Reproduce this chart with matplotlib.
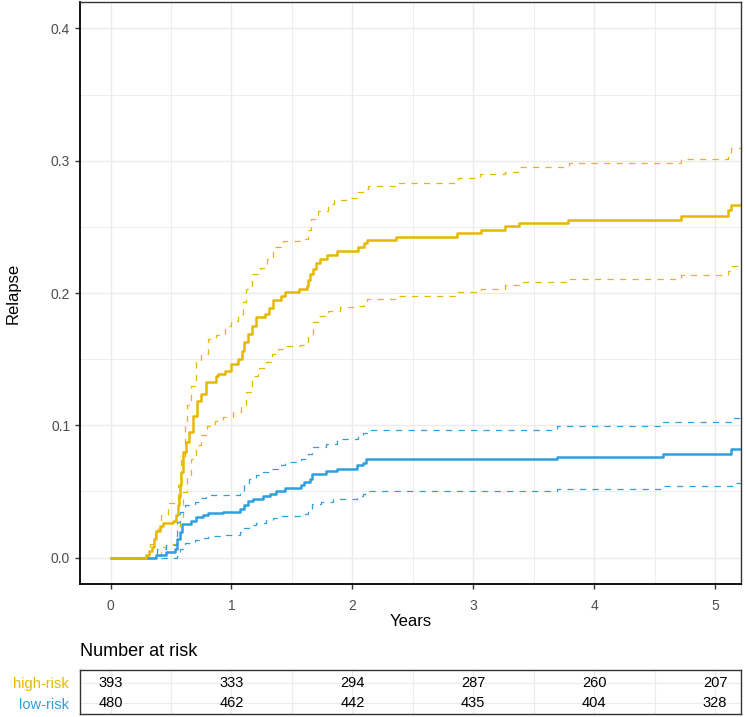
import matplotlib
matplotlib.use("Agg")
import matplotlib.pyplot as plt
from matplotlib.ticker import MultipleLocator

plt.rcParams["font.family"] = ["Liberation Sans", "DejaVu Sans"]

GOLD = "#E7B800"
BLUE = "#2E9FDF"

# cumulative incidence of relapse, high-risk group
high_t = [0, 0.295, 0.315, 0.34, 0.36, 0.38, 0.41, 0.433, 0.52, 0.544, 0.555, 0.566, 0.575,
          0.585, 0.6, 0.62, 0.648, 0.681, 0.715, 0.75, 0.79, 0.875, 0.89, 0.944, 1.0, 1.054,
          1.09, 1.10, 1.137, 1.17, 1.2, 1.275, 1.31, 1.345, 1.413, 1.44, 1.559, 1.625, 1.635,
          1.647, 1.675, 1.697, 1.73, 1.79, 1.873, 2.047, 2.10, 2.122, 2.365, 2.867, 3.063,
          3.262, 3.377, 3.786, 4.72, 5.11, 5.13]
high_est = [0, 0.002, 0.005, 0.008, 0.014, 0.020, 0.024, 0.026, 0.028, 0.032, 0.040, 0.046,
            0.055, 0.065, 0.080, 0.087, 0.095, 0.107, 0.118, 0.124, 0.133, 0.137, 0.139, 0.141,
            0.146, 0.150, 0.156, 0.163, 0.169, 0.175, 0.182, 0.184, 0.189, 0.195, 0.1975, 0.201,
            0.203, 0.2055, 0.210, 0.2143, 0.218, 0.223, 0.2257, 0.2287, 0.2315, 0.235, 0.2377,
            0.240, 0.2425, 0.245, 0.2478, 0.2503, 0.2526, 0.2553, 0.2583, 0.263, 0.2664]

high_up_t = [0, 0.31, 0.323, 0.364, 0.42, 0.475, 0.53, 0.557, 0.585, 0.613, 0.632, 0.668,
             0.71, 0.75, 0.806, 0.87, 0.944, 1.0, 1.054, 1.095, 1.123, 1.173, 1.233, 1.29,
             1.344, 1.426, 1.565, 1.633, 1.66, 1.72, 1.8, 1.85, 1.95, 2.05, 2.10, 2.13, 2.37,
             2.87, 3.06, 3.26, 3.38, 3.79, 4.72, 5.11, 5.13]
high_up = [0, 0.0025, 0.0106, 0.0219, 0.032, 0.041, 0.0415, 0.0546, 0.0747, 0.1024, 0.115,
           0.130, 0.148, 0.154, 0.165, 0.168, 0.175, 0.179, 0.184, 0.193, 0.203, 0.214, 0.219,
           0.2257, 0.2345, 0.2395, 0.241, 0.248, 0.256, 0.262, 0.267, 0.270, 0.2722, 0.276,
           0.2785, 0.281, 0.2835, 0.2868, 0.2898, 0.2918, 0.2953, 0.2983, 0.3014, 0.3057, 0.3094]

high_lo_t = [0, 0.378, 0.42, 0.461, 0.549, 0.571, 0.599, 0.632, 0.668, 0.709, 0.75, 0.797,
             0.861, 0.93, 1.013, 1.082, 1.123, 1.173, 1.22, 1.289, 1.338, 1.385, 1.454, 1.565,
             1.633, 1.675, 1.716, 1.8, 1.896, 2.05, 2.10, 2.125, 2.365, 2.867, 3.063, 3.262,
             3.377, 3.786, 4.72, 5.11, 5.13]
high_lo = [0, 0.0013, 0.008, 0.0106, 0.0113, 0.0294, 0.0496, 0.062, 0.0747, 0.0848, 0.0923,
           0.0998, 0.1036, 0.106, 0.110, 0.115, 0.125, 0.1376, 0.143, 0.1477, 0.154, 0.1577,
           0.1598, 0.161, 0.1666, 0.178, 0.1824, 0.1866, 0.1892, 0.1905, 0.194, 0.1955, 0.198,
           0.2005, 0.203, 0.206, 0.2085, 0.2108, 0.2138, 0.2168, 0.2206]

# low-risk group
low_t = [0, 0.378, 0.461, 0.53, 0.549, 0.571, 0.593, 0.668, 0.709, 0.764, 0.806, 0.93, 1.068,
         1.101, 1.137, 1.178, 1.261, 1.316, 1.372, 1.44, 1.578, 1.598, 1.647, 1.664, 1.78,
         1.873, 2.04, 2.09, 2.117, 3.695, 4.572, 5.13]
low_est = [0, 0.0023, 0.0045, 0.0068, 0.0143, 0.0196, 0.0257, 0.028, 0.0305, 0.0325, 0.0335,
           0.0345, 0.0365, 0.0395, 0.0425, 0.0445, 0.0466, 0.0483, 0.050, 0.0526, 0.0546,
           0.0571, 0.0596, 0.0634, 0.0654, 0.0672, 0.0697, 0.0717, 0.0742, 0.0757, 0.0782,
           0.082]

low_up_t = [0, 0.383, 0.461, 0.538, 0.549, 0.571, 0.613, 0.695, 0.737, 0.792, 1.068, 1.10,
            1.145, 1.206, 1.261, 1.316, 1.385, 1.44, 1.578, 1.633, 1.664, 1.78, 1.873, 2.05,
            2.09, 2.12, 3.695, 4.57, 5.13]
low_up = [0, 0.0068, 0.0093, 0.0106, 0.0269, 0.0345, 0.0395, 0.042, 0.045, 0.047, 0.0496,
          0.0558, 0.0596, 0.0621, 0.0647, 0.0672, 0.0697, 0.0722, 0.0747, 0.0785, 0.0835,
          0.086, 0.0893, 0.0923, 0.0943, 0.0968, 0.0996, 0.1024, 0.1057]

low_lo_t = [0, 0.549, 0.571, 0.613, 0.695, 0.75, 0.806, 0.902, 1.068, 1.10, 1.145, 1.206,
            1.289, 1.344, 1.413, 1.578, 1.633, 1.664, 1.744, 1.84, 2.04, 2.09, 2.125, 3.695,
            4.57, 5.14]
low_lo = [0, 0.0013, 0.0068, 0.0113, 0.0131, 0.0149, 0.0164, 0.0174, 0.0194, 0.0224, 0.0249,
          0.0264, 0.0282, 0.030, 0.0315, 0.0332, 0.037, 0.0408, 0.042, 0.0445, 0.0466, 0.0483,
          0.0503, 0.052, 0.0538, 0.0566]

# number at risk table
risk_times = [0, 1, 2, 3, 4, 5]
groups = ["high-risk", "low-risk"]
high_risk_n = [393, 333, 294, 287, 260, 207]
low_risk_n = [480, 462, 442, 435, 404, 328]

X_MAX = 5.215


def draw_step(ax, t, y, color, dashed=False):
    # extend the last value to the right edge of the panel
    tt = list(t) + [X_MAX + 0.1]
    yy = list(y) + [y[-1]]
    if dashed:
        ax.step(tt, yy, where="post", color=color, lw=0.9, dashes=(5, 5))
    else:
        ax.step(tt, yy, where="post", color=color, lw=1.8)


fig = plt.figure(figsize=(7.46, 7.17), dpi=100)
ax = fig.add_axes([0.1072, 0.1855, 0.8861, 0.8117])

draw_step(ax, high_up_t, high_up, GOLD, dashed=True)
draw_step(ax, high_lo_t, high_lo, GOLD, dashed=True)
draw_step(ax, low_up_t, low_up, BLUE, dashed=True)
draw_step(ax, low_lo_t, low_lo, BLUE, dashed=True)
draw_step(ax, low_t, low_est, BLUE)
draw_step(ax, high_t, high_est, GOLD)

ax.set_xlim(-0.253, X_MAX)
ax.set_ylim(-0.02, 0.42)
ax.xaxis.set_major_locator(MultipleLocator(1))
ax.xaxis.set_minor_locator(MultipleLocator(0.5))
ax.yaxis.set_major_locator(MultipleLocator(0.1))
ax.yaxis.set_minor_locator(MultipleLocator(0.05))
ax.yaxis.set_major_formatter(plt.FuncFormatter(lambda v, p: f"{v:.1f}"))
ax.grid(True, which="major", color="#EBEBEB", lw=1.0)
ax.grid(True, which="minor", color="#EBEBEB", lw=0.6)
ax.set_axisbelow(True)
ax.tick_params(which="major", direction="out", length=3.5, width=1, color="#333333",
               labelsize=10, labelcolor="#4D4D4D")
ax.tick_params(axis="x", which="major", pad=7)
ax.tick_params(which="minor", length=0)
for side, spine in ax.spines.items():
    spine.set_color("#333333")
    spine.set_linewidth(1.0)
ax.spines["left"].set_linewidth(1.3)
ax.spines["bottom"].set_linewidth(1.3)
ax.spines["left"].set_color("black")
ax.spines["bottom"].set_color("black")
ax.set_xlabel("Years", fontsize=12, labelpad=1)
ax.set_ylabel("Relapse", fontsize=12, labelpad=22)

# risk table
tab = fig.add_axes([0.1072, 0.0042, 0.8861, 0.0614])
rows = [high_risk_n, low_risk_n]
row_colors = [GOLD, BLUE]
for i, counts in enumerate(rows):
    for t, n in zip(risk_times, counts):
        tab.text(t, i, str(n), ha="center", va="center", fontsize=10.5, color="black")
tab.set_xlim(-0.253, X_MAX)
tab.set_ylim(1.51, -0.62)
tab.set_yticks(range(len(groups)))
tab.set_yticklabels(groups)
for lab, c in zip(tab.get_yticklabels(), row_colors):
    lab.set_color(c)
tab.set_xticks(risk_times)
tab.xaxis.set_minor_locator(MultipleLocator(0.5))
tab.tick_params(axis="x", which="both", length=0, labelbottom=False)
tab.tick_params(axis="y", length=0, labelsize=10.5, pad=8)
tab.grid(True, which="both", color="#EBEBEB", lw=0.8)
tab.set_axisbelow(True)
for spine in tab.spines.values():
    spine.set_color("#333333")
    spine.set_linewidth(1.0)
fig.text(0.1072, 0.0907, "Number at risk", fontsize=13, ha="left", va="center")

fig.savefig("out.png", dpi=100)
